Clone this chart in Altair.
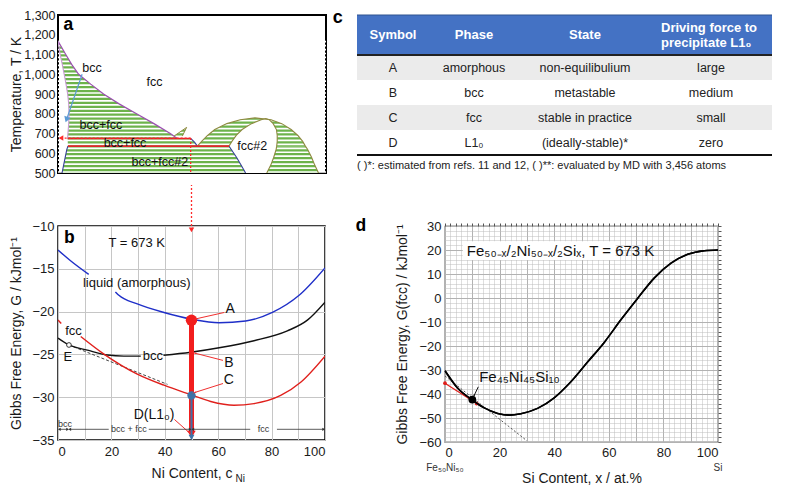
import math
import altair as alt
import numpy as np
import pandas as pd

FONT = "Liberation Sans"
MONO = "Liberation Mono"

AW, AH = 268, 158
BW, BH = 267, 214
CW, CH = 415, 140
DW, DH = 273, 216

# ---------------- Panel a : phase diagram (x = Ni at.%, T in K) ----------------
g1_T = [1168, 1100, 1050, 1000, 950, 900, 850, 800, 750, 700, 675]
g1_left = [0.0, 0.8, 1.6, 2.3, 3.0, 3.6, 4.0, 4.1, 4.0, 3.7, 3.6]
g1_right = [0.0, 2.9, 5.1, 7.7, 12.2, 17.0, 22.8, 29.3, 35.8, 41.9, 44.5]
g2_T = [636, 655, 675]
g2_left = [3.7, 3.65, 3.6]
g2_right = [52.0, 51.0, 49.5]
g3_T = [500, 540, 580, 620, 636]
g3_left = [1.5, 2.1, 2.7, 3.3, 3.7]
g3_right = [97.2, 95.8, 94.6, 93.1, 92.3]
g4_T = [636, 660, 690, 720, 750, 770, 779]
g4_left = [52.0, 53.6, 55.8, 58.5, 63.0, 68.0, 73.5]
g4_right = [92.3, 91.3, 89.5, 87.0, 83.5, 79.5, 73.5]
w_T = [500, 540, 580, 620, 636, 660, 690, 720, 750, 770, 776]
w_left = [70.0, 68.3, 66.6, 64.6, 63.8, 64.9, 66.5, 68.7, 72.2, 75.8, 77.5]
w_right = [77.9, 79.4, 80.5, 81.4, 81.6, 81.8, 81.8, 81.5, 80.3, 78.8, 77.5]
spike_T = [687, 731]
spike_left = [43.3, 48.0]
spike_right = [46.4, 48.0]
red_T = [675, 636]
red_x1 = [3.6, 3.7]
red_x2 = [49.5, 63.8]
a_labels = ["bcc", "fcc", "bcc+fcc", "bcc+fcc", "bcc+fcc#2", "fcc#2"]
a_lab_x = [12.7, 36, 16, 25, 38, 72.5]
a_lab_T = [1030, 963, 742, 654, 558, 635]

# ---------------- Panel b : Gibbs energy vs Ni content ----------------
liq1_x = [0, 4.7, 11.5]
liq1_G = [-12.8, -14.06, -15.65]
liq2_x = [21.5, 22.8, 29.7, 39.7, 50.3, 60.3, 70.3, 80.3, 90.3, 100]
liq2_G = [-17.7, -18.1, -19.1, -20.1, -20.9, -21.3, -21.1, -20.1, -18.1, -14.9]
bcc1_x = [0, 4.1, 11, 18.5, 24.7, 31.0]
bcc1_G = [-23.1, -23.9, -24.5, -25.07, -25.2, -25.2]
bcc2_x = [39.5, 49.7, 60.9, 73.4, 85.9, 93.4, 100]
bcc2_G = [-25.1, -24.75, -24.2, -23.4, -22.25, -21.0, -18.9]
fcc1_x = [0, 1.2]
fcc1_G = [-20.97, -21.4]
fcc2_x = [8.5, 17.2, 29.7, 39.7, 49.7, 57.2, 65.9, 73.4, 83.4, 90.9, 100]
fcc2_G = [-22.9, -24.96, -27.3, -28.6, -29.7, -30.5, -30.94, -30.75, -29.8, -28.25, -25.2]
tan_x = [4.1, 41.0]
tan_G = [-23.9, -28.5]
pt_names = ["A", "C", "E"]
pt_x = [50, 50, 4.1]
pt_G = [-21.0, -29.8, -23.9]

# ---------------- Panel c : table ----------------
columns = ["Symbol", "Phase", "State", "Driving force to\nprecipitate L1\u2080"]
symbols = ["A", "B", "C", "D"]
phases = ["amorphous", "bcc", "fcc", "L1\u2080"]
states = ["non-equilibulium", "metastable", "stable in practice", "(ideally-stable)*"]
forces = ["large", "medium", "small", "zero"]
footnote = "( )*: estimated from refs. 11 and 12,  ( )**: evaluated by MD with 3,456 atoms"

# ---------------- Panel d : G(fcc) vs Si content ----------------
si_x = [0, 4.6, 10.1, 14.4, 19.3, 23.6, 27.8, 33.9, 40, 46.2, 52.3, 58.4, 64.5, 70.6, 76.7, 82.8, 88.9, 95, 100]
si_G = [-30.3, -37.5, -42.6, -45.8, -48.1, -48.8, -48.2, -46.0, -41.6, -34.8, -26.6, -18.4, -9.0, -0.1, 8.4, 14.5, 18.2, 19.7, 20.0]
dtan_x = [0, 30]
dtan_G = [-32.5, -59.5]
dred_x = [0, 11.6]
dred_G = [-35.5, -44.0]
dpt_x = [10]
dpt_G = [-42.3]


def ang(x0, y0, x1, y1, sx, sy):
    dxp = (x1 - x0) * sx
    dyp = -(y1 - y0) * sy
    return math.degrees(math.atan2(dxp, -dyp)) % 360


def path(xs, ys, xsc, ysc, color, width=1.3, dash=None, interp="linear", clip=True):
    df = pd.DataFrame({"x": xs, "y": ys, "i": list(range(len(xs)))})
    kw = dict(color=color, strokeWidth=width, interpolate=interp, clip=clip)
    if dash:
        kw["strokeDash"] = dash
    return alt.Chart(df).mark_line(**kw).encode(
        x=alt.X("x:Q", scale=xsc, axis=None),
        y=alt.Y("y:Q", scale=ysc, axis=None),
        order="i:Q")


def head(x, y, a, color, xsc, ysc, size=40, shape="wedge"):
    df = pd.DataFrame({"x": [x], "y": [y], "a": [a]})
    return alt.Chart(df).mark_point(shape=shape, filled=True, size=size, color=color,
                                    opacity=1, clip=False).encode(
        x=alt.X("x:Q", scale=xsc, axis=None),
        y=alt.Y("y:Q", scale=ysc, axis=None),
        angle=alt.Angle("a:Q", scale=None))


def label(texts, xs, ys, xsc, ysc, size=12, color="#111", align="center", font=FONT,
          weight="normal", style="normal"):
    df = pd.DataFrame({"t": texts, "x": xs, "y": ys})
    return alt.Chart(df).mark_text(fontSize=size, color=color, align=align, font=font,
                                   fontWeight=weight, fontStyle=style, clip=False).encode(
        x=alt.X("x:Q", scale=xsc, axis=None),
        y=alt.Y("y:Q", scale=ysc, axis=None),
        text="t:N")


# ================= Panel a =================
xs_a = alt.Scale(domain=[0, 100], nice=False, zero=False)
ys_a = alt.Scale(domain=[500, 1300], nice=False, zero=False)
GREEN = "#6DB34B"


def region(Ts, L, R, color, first=False):
    df = pd.DataFrame({"T": Ts, "L": L, "R": R})
    yax = None
    if first:
        yax = alt.Axis(values=list(range(500, 1301, 100)),
                       labelExpr="format(datum.value, ',')", labelFontSize=12.5,
                       title="Temperature, T / K", titleX=-35, ticks=False,
                       labelPadding=3, domain=False, grid=False)
    return alt.Chart(df).mark_area(orient="horizontal", color=color, opacity=1).encode(
        y=alt.Y("T:Q", scale=ys_a, axis=yax),
        x=alt.X("L:Q", scale=xs_a, axis=None),
        x2="R:Q")


hatch = pd.DataFrame({"T": np.arange(505, 1170, 20)})
hatch_layer = alt.Chart(hatch).mark_rule(color="white", strokeWidth=1.7).encode(
    y=alt.Y("T:Q", scale=ys_a, axis=None), x=alt.value(0), x2=alt.value(AW))

red_df = pd.DataFrame({"T": red_T, "x1": red_x1, "x2": red_x2})
red_lines = alt.Chart(red_df).mark_rule(color="#E3242B", strokeWidth=1.6).encode(
    y=alt.Y("T:Q", scale=ys_a, axis=None),
    x=alt.X("x1:Q", scale=xs_a, axis=None), x2="x2:Q")

OLIVE = "#8E8A40"
NAVY = "#37409A"
outer_x = g4_left + g4_right[::-1][1:] + g3_right[::-1][1:]
outer_T = g4_T + g4_T[::-1][1:] + g3_T[::-1][1:]
inner_x = w_left[4:] + w_right[::-1][1:]
inner_T = w_T[4:] + w_T[::-1][1:]
spike_x = [spike_left[0], spike_left[1], spike_right[0]]
spike_Tp = [spike_T[0], spike_T[1], spike_T[0]]

blue_from = (9.0, 1000)
blue_to = (3.3, 775)
a_arrow_ang = ang(blue_from[0], blue_from[1], blue_to[0], blue_to[1], AW / 100, AH / 800)

panel_a = alt.layer(
    region(g1_T, g1_left, g1_right, GREEN, first=True),
    region(g2_T, g2_left, g2_right, GREEN),
    region(g3_T, g3_left, g3_right, GREEN),
    region(g4_T, g4_left, g4_right, GREEN),
    region(spike_T, spike_left, spike_right, GREEN),
    hatch_layer,
    region(w_T, w_left, w_right, "white"),
    path(g1_right, g1_T, xs_a, ys_a, "#9B4FB0", 1.2),
    path(g1_left, g1_T, xs_a, ys_a, "#C79AD2", 1.1),
    path(g3_left, g3_T, xs_a, ys_a, NAVY, 1.1),
    path(w_left[:5], w_T[:5], xs_a, ys_a, NAVY, 1.1),
    path(g2_right, g2_T, xs_a, ys_a, NAVY, 1.1),
    path(outer_x, outer_T, xs_a, ys_a, OLIVE, 1.1),
    path(inner_x, inner_T, xs_a, ys_a, OLIVE, 1.1),
    path(spike_x, spike_Tp, xs_a, ys_a, OLIVE, 1.0),
    red_lines,
    path([49.5, 1.8], [677, 677], xs_a, ys_a, "#FF2A2A", 1.3, dash=[2, 2]),
    path([49.5, 49.5], [677, 500], xs_a, ys_a, "#FF2A2A", 1.3, dash=[2, 2]),
    head(1.4, 677, 270, "#FF2A2A", xs_a, ys_a, size=30, shape="triangle"),
    path([blue_from[0], blue_to[0]], [blue_from[1], blue_to[1]], xs_a, ys_a, "#5B9BD5", 1.2),
    head(blue_to[0], blue_to[1], a_arrow_ang, "#5B9BD5", xs_a, ys_a, size=45, shape="triangle"),
    label(a_labels, a_lab_x, a_lab_T, xs_a, ys_a, size=12.5),
    alt.Chart(pd.DataFrame({"t": ["a"]})).mark_text(
        font=MONO, fontWeight="bold", fontSize=18, align="left", baseline="middle").encode(
        x=alt.value(5), y=alt.value(10), text="t:N"),
).resolve_axis(x="independent", y="independent").properties(
    width=AW, height=AH, view=alt.ViewBackground(stroke="black", strokeWidth=2))

# ================= Panel b =================
xs_b = alt.Scale(domain=[0, 100], nice=False, zero=False)
ys_b = alt.Scale(domain=[-35, -10], nice=False, zero=False)
sxb, syb = BW / 100, BH / 25

axis_layer_b = alt.Chart(pd.DataFrame({"x": liq2_x, "y": liq2_G})).mark_point(opacity=0).encode(
    x=alt.X("x:Q", scale=xs_b, axis=alt.Axis(
        values=list(range(0, 101, 10)), title="Ni Content, c", titlePadding=8,
        ticks=False, labelPadding=5, domain=False, grid=True, gridColor="#C6C6C6")),
    y=alt.Y("y:Q", scale=ys_b, axis=alt.Axis(
        values=list(range(-35, -9, 5)), title="Gibbs Free Energy,  G / kJmol\u207b\u00b9",
        titleX=-35, ticks=False, labelPadding=4, domain=False, grid=True, gridColor="#C6C6C6")))

pts_df = pd.DataFrame({"n": pt_names, "x": pt_x, "y": pt_G})


def pt(name, color, size, filled=True):
    return alt.Chart(pts_df).transform_filter(alt.datum.n == name).mark_point(
        filled=filled, size=size, color=color, opacity=1, strokeWidth=1,
        fill=color if filled else "white").encode(
        x=alt.X("x:Q", scale=xs_b, axis=None), y=alt.Y("y:Q", scale=ys_b, axis=None))


ann = [(62.3, -20.1, 51.6, -20.85), (61.8, -25.7, 51.2, -24.85),
       (61.8, -28.4, 51.2, -29.45), (43.6, -32.6, 49.0, -34.1)]
ann_layers = []
for (x0, y0, x1, y1) in ann:
    ann_layers.append(path([x0, x1], [y0, y1], xs_b, ys_b, "#F03030", 1.0))
    ann_layers.append(head(x1, y1, ang(x0, y0, x1, y1, sxb, syb), "#F03030", xs_b, ys_b, size=28))

rng_layers = []
for (a0, a1) in [(0.4, 3.7), (4.3, 19.0), (34.0, 49.6), (50.4, 72.0), (82.0, 99.6)]:
    rng_layers.append(path([a0, a1], [-33.75, -33.75], xs_b, ys_b, "#333", 0.8))
for (xx, sh) in [(0.5, "triangle-left"), (3.6, "triangle-right"), (4.4, "triangle-left"),
                 (49.5, "triangle-right"), (50.5, "triangle-left"), (99.5, "triangle-right")]:
    rng_layers.append(head(xx, -33.75, 0, "#333", xs_b, ys_b, size=10, shape=sh))

over_top = -10 + 41 / syb

panel_b = alt.layer(
    axis_layer_b,
    path(tan_x, tan_G, xs_b, ys_b, "#444", 1.0, dash=[3, 2]),
    path(liq1_x, liq1_G, xs_b, ys_b, "#1F2FC8", 1.4, interp="monotone"),
    path(liq2_x, liq2_G, xs_b, ys_b, "#1F2FC8", 1.4, interp="monotone"),
    path(bcc1_x, bcc1_G, xs_b, ys_b, "#111", 1.4, interp="monotone"),
    path(bcc2_x, bcc2_G, xs_b, ys_b, "#111", 1.4, interp="monotone"),
    path(fcc1_x, fcc1_G, xs_b, ys_b, "#E0201C", 1.4),
    path(fcc2_x, fcc2_G, xs_b, ys_b, "#E0201C", 1.4, interp="monotone"),
    path([50, 50], [-21.0, -34.0], xs_b, ys_b, "#F21D1D", 5),
    head(50, -34.2, 180, "#F21D1D", xs_b, ys_b, size=70, shape="triangle"),
    path([50, 50], [-29.8, -34.6], xs_b, ys_b, "#3E73A8", 2),
    head(50, -34.6, 180, "#3E73A8", xs_b, ys_b, size=35, shape="triangle"),
    pt("A", "#F21D1D", 130),
    pt("C", "#3E73A8", 70),
    pt("E", "#333", 22, filled=False),
    *ann_layers,
    *rng_layers,
    label(["A", "B", "C", "D(L1\u2080)"], [64.5, 64.0, 64.0, 36.0], [-19.7, -26.0, -28.0, -32.1],
          xs_b, ys_b, size=14),
    label(["liquid (amorphous)", "bcc", "fcc", "E", "T = 673 K"],
          [29.5, 35.5, 5.8, 3.7, 29.5], [-16.7, -25.2, -22.3, -25.35, -12.0],
          xs_b, ys_b, size=13),
    label(["bcc", "bcc + fcc", "fcc"], [2.6, 26.5, 77.0], [-33.15, -33.75, -33.75],
          xs_b, ys_b, size=9, color="#333"),
    path([50, 50], [-10, over_top], xs_b, ys_b, "#FF2A2A", 1.3, dash=[2, 2], clip=False),
    head(50, -10.35, 180, "#FF2A2A", xs_b, ys_b, size=30, shape="triangle"),
    alt.Chart(pd.DataFrame({"t": ["b"]})).mark_text(
        font=MONO, fontWeight="bold", fontSize=18, align="left", baseline="middle").encode(
        x=alt.value(6), y=alt.value(12), text="t:N"),
    alt.Chart(pd.DataFrame({"t": ["Ni"]})).mark_text(
        font=FONT, fontSize=10, align="left", baseline="middle", color="#1a1a1a").encode(
        x=alt.value(BW / 2 + 44), y=alt.value(BH + 39), text="t:N"),
).resolve_axis(x="independent", y="independent").properties(
    width=BW, height=BH, view=alt.ViewBackground(stroke="black", strokeWidth=1.5))

# ================= Panel c : table =================
rows_df = pd.DataFrame({"sym": symbols, "phase": phases, "state": states, "force": forces})
row_scale = alt.Scale(type="band", domain=symbols, range=[40, CH], paddingInner=0, paddingOuter=0)
col_x = [36, 117, 228, 354]
HDR = 40

tbl_base = alt.Chart(rows_df)
row_bg = tbl_base.mark_rect().encode(
    y=alt.Y("sym:N", scale=row_scale, axis=None),
    x=alt.value(0), x2=alt.value(CW),
    color=alt.Color("sym:N", scale=alt.Scale(domain=symbols,
                    range=["#EBEBEB", "#FFFFFF", "#EBEBEB", "#FFFFFF"]), legend=None))
hdr_bg = alt.Chart(pd.DataFrame({"h": [0]})).mark_rect(color="#4472C4").encode(
    x=alt.value(0), x2=alt.value(CW), y=alt.value(0), y2=alt.value(HDR))
tbl_layers = [row_bg, hdr_bg]
for cx, field in zip(col_x, ["sym", "phase", "state", "force"]):
    tbl_layers.append(tbl_base.mark_text(font=FONT, fontSize=12.5, color="#222").encode(
        y=alt.Y("sym:N", scale=row_scale, axis=None), x=alt.value(cx), text=f"{field}:N"))
for cx, head_txt in zip(col_x, columns):
    multi = "\n" in head_txt
    tbl_layers.append(alt.Chart(pd.DataFrame({"t": [head_txt]})).mark_text(
        font=FONT, fontSize=13, fontWeight="bold", color="white", lineBreak="\n",
        align="left" if multi else "center").encode(
        x=alt.value(cx - 50 if multi else cx),
        y=alt.value(HDR / 2 - (7 if multi else 0)), text="t:N"))
for yy, col, sw in [(0, "#2F528F", 1), (HDR, "#222", 2), (CH, "#111", 2)]:
    tbl_layers.append(alt.Chart(pd.DataFrame({"h": [0]})).mark_rule(
        color=col, strokeWidth=sw).encode(x=alt.value(0), x2=alt.value(CW), y=alt.value(yy)))
tbl_layers.append(alt.Chart(pd.DataFrame({"t": [footnote]})).mark_text(
    font=FONT, fontSize=11, align="left", color="#222").encode(
    x=alt.value(0), y=alt.value(CH + 11), text="t:N"))
tbl_layers.append(alt.Chart(pd.DataFrame({"t": ["c"]})).mark_text(
    font=MONO, fontWeight="bold", fontSize=18, align="center", baseline="middle").encode(
    x=alt.value(-19), y=alt.value(3), text="t:N"))
panel_c = alt.layer(*tbl_layers).properties(width=CW, height=CH)

# ================= Panel d =================
xs_d = alt.Scale(domain=[0, 100], nice=False, zero=False)
ys_d = alt.Scale(domain=[-60, 30], nice=False, zero=False)
sxd, syd = DW / 100, DH / 90
d_df = pd.DataFrame({"x": si_x, "y": si_G, "i": list(range(len(si_x)))})

d_major = alt.Chart(d_df).mark_line(color="black", strokeWidth=1.6, interpolate="monotone").encode(
    x=alt.X("x:Q", scale=xs_d, axis=alt.Axis(
        values=list(range(0, 101, 10)), title="Si Content, x / at.%", titlePadding=12,
        ticks=False, labelPadding=4, domain=False, grid=True, gridColor="#A8A8A8")),
    y=alt.Y("y:Q", scale=ys_d, axis=alt.Axis(
        values=list(range(-60, 31, 10)), title="Gibbs Free Energy,  G(fcc) / kJmol\u207b\u00b9",
        titleX=-36, ticks=False, labelPadding=4, domain=False, grid=True, gridColor="#A8A8A8")),
    order="i:Q")
d_minor = alt.Chart(d_df).mark_point(opacity=0).encode(
    x=alt.X("x:Q", scale=xs_d, axis=alt.Axis(
        orient="top", values=list(range(0, 101, 2)), labels=False, ticks=True, tickSize=3,
        tickColor="#555", domain=False, grid=True, gridDash=[1, 1], gridColor="#BDBDBD", title=None)),
    y=alt.Y("y:Q", scale=ys_d, axis=alt.Axis(
        orient="right", values=list(range(-60, 31, 2)), labels=False, ticks=True, tickSize=3,
        tickColor="#555", domain=False, grid=True, gridDash=[1, 1], gridColor="#BDBDBD", title=None)))

box_df = pd.DataFrame({"x1": [6.5], "x2": [62.5], "y1": [23.6], "y2": [15.8]})
box = alt.Chart(box_df).mark_rect(color="white").encode(
    x=alt.X("x1:Q", scale=xs_d, axis=None), x2="x2:Q",
    y=alt.Y("y1:Q", scale=ys_d, axis=None), y2="y2:Q")

dpts = pd.DataFrame({"x": dred_x, "y": dred_G})
red_dots = alt.Chart(dpts).mark_point(filled=True, size=14, color="#E0201C", opacity=1).encode(
    x=alt.X("x:Q", scale=xs_d, axis=None), y=alt.Y("y:Q", scale=ys_d, axis=None))
blk = alt.Chart(pd.DataFrame({"x": dpt_x, "y": dpt_G})).mark_point(
    filled=True, size=60, color="black", opacity=1).encode(
    x=alt.X("x:Q", scale=xs_d, axis=None), y=alt.Y("y:Q", scale=ys_d, axis=None))

d_ann = (12.2, -37.0, 10.6, -40.8)

panel_d = alt.layer(
    d_major, d_minor,
    box,
    path(dtan_x, dtan_G, xs_d, ys_d, "#555", 1.0, dash=[2, 2]),
    path(dred_x, dred_G, xs_d, ys_d, "#E0201C", 1.2),
    red_dots,
    path(si_x, si_G, xs_d, ys_d, "black", 1.6, interp="monotone"),
    blk,
    path([d_ann[0], d_ann[2]], [d_ann[1], d_ann[3]], xs_d, ys_d, "#111", 1.0),
    head(d_ann[2], d_ann[3], ang(*d_ann, sxd, syd), "#111", xs_d, ys_d, size=30),
    label(["Fe\u2084\u2085Ni\u2084\u2085Si\u2081\u2080"], [12.5], [-32.8], xs_d, ys_d, size=15, align="left"),
    label(["Fe\u2085\u2080\u208b\u2093/\u2082Ni\u2085\u2080\u208b\u2093/\u2082Si\u2093, T = 673 K"],
          [8.0], [19.7], xs_d, ys_d, size=15, align="left"),
    alt.Chart(pd.DataFrame({"t": ["Fe\u2085\u2080Ni\u2085\u2080", "Si"], "x": [0, 100]})).mark_text(
        font=FONT, fontSize=10, color="#333", clip=False).encode(
        x=alt.X("x:Q", scale=xs_d, axis=None), y=alt.value(DH + 26), text="t:N"),
    alt.Chart(pd.DataFrame({"t": ["d"]})).mark_text(
        font=MONO, fontWeight="bold", fontSize=18, align="center", baseline="middle").encode(
        x=alt.value(-84), y=alt.value(0), text="t:N"),
).resolve_axis(x="independent", y="independent").properties(
    width=DW, height=DH, view=alt.ViewBackground(stroke="black", strokeWidth=1.2))

row1 = alt.hconcat(panel_a, panel_c, spacing=31, bounds="flush")
row2 = alt.hconcat(panel_b, panel_d, spacing=120, bounds="flush")

chart = alt.vconcat(row1, row2, spacing=0, padding=0).configure(font=FONT).configure_view(
    stroke=None).configure_axis(
    labelFont=FONT, titleFont=FONT, labelFontSize=13, titleFontSize=14,
    titleFontWeight="normal", labelColor="#1a1a1a", titleColor="#1a1a1a")

chart.save("out.html", embed_options={"renderer": "svg", "actions": False})
